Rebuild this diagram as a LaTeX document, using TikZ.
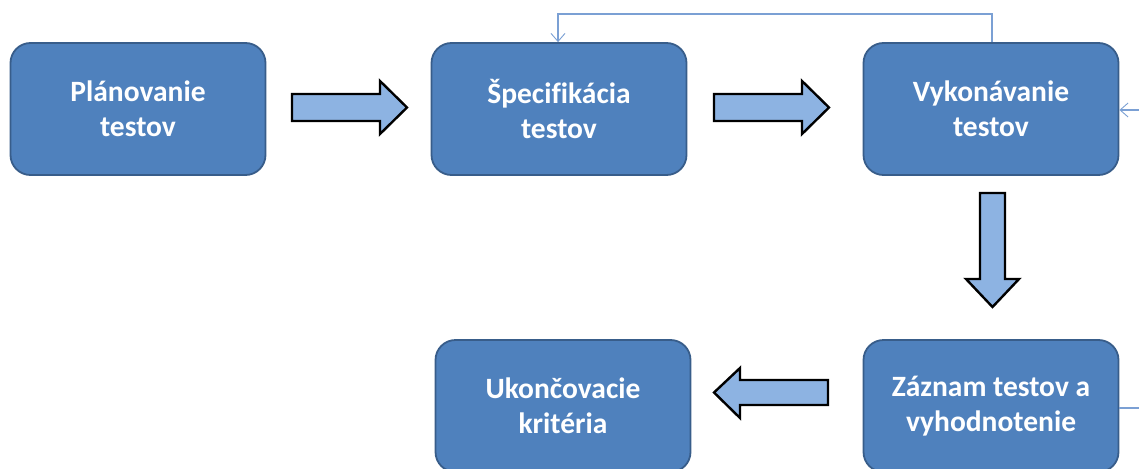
\documentclass[tikz,border=0pt]{standalone}
\usepackage{fontspec}
\setmainfont{Carlito}[Ligatures=NoCommon]
\usetikzlibrary{arrows.meta}
\definecolor{boxfill}{HTML}{4F81BD}
\definecolor{boxline}{HTML}{385D8A}
\definecolor{blockfill}{HTML}{8DB3E2}
\definecolor{loopline}{HTML}{7BA0D4}
\begin{document}
\begin{tikzpicture}[x=1pt,y=-1pt,
  stage/.style={draw=boxline, line width=1.8pt, fill=boxfill, rounded corners=20pt,
    minimum width=255pt, minimum height=132pt, text=white, align=center,
    font=\fontsize{29.5}{35}\selectfont\bfseries, inner sep=0pt},
  block/.style={draw=black, line width=2.4pt, fill=blockfill, line join=miter},
  loop/.style={draw=loopline, line width=1.2pt},
  tip/.style={-{Straight Barb[length=8pt,width=14pt,line width=0.9pt]}}]
\useasboundingbox (0,0) rectangle (1139,468);
\begin{scope}
\clip (0,0) rectangle (1139,468);
% process stages
\node[stage] (plan) at (138,109) {Plánovanie\\testov};
\node[stage] (spec) at (559,109) {Špecifikácia\\testov};
\node[stage] (exec) at (991,109) {Vykonávanie\\testov};
\node[stage] (rec)  at (991,406) {Záznam testov a\\vyhodnotenie};
\node[stage] (end)  at (563,406) {Ukončovacie\\kritéria};

% block arrows between stages
\draw[block] (292,94) -- (380,94) -- (380,81) -- (407,107.5) -- (380,134) -- (380,121) -- (292,121) -- cycle;
\draw[block] (714,94) -- (802,94) -- (802,81) -- (829,107.5) -- (802,134) -- (802,121) -- (714,121) -- cycle;
\draw[block] (980,193) -- (1005,193) -- (1005,279) -- (1019,279) -- (992.5,307) -- (966,279) -- (980,279) -- cycle;
\draw[block] (828,380) -- (740,380) -- (740,368) -- (714,392.5) -- (740,418) -- (740,405) -- (828,405) -- cycle;

% feedback loops
\coordinate (topR) at (992,14);
\coordinate (topL) at (558,14);
\draw[loop,tip] (exec.north -| topR) -- (topR) -- (topL) -- (spec.north -| topL);
\coordinate (sideB) at (1160,408);
\coordinate (sideT) at (1160,110);
\draw[loop,tip] (rec.east |- sideB) -- (sideB) -- (sideT) -- (exec.east |- sideT);
\end{scope}
\end{tikzpicture}
\end{document}
